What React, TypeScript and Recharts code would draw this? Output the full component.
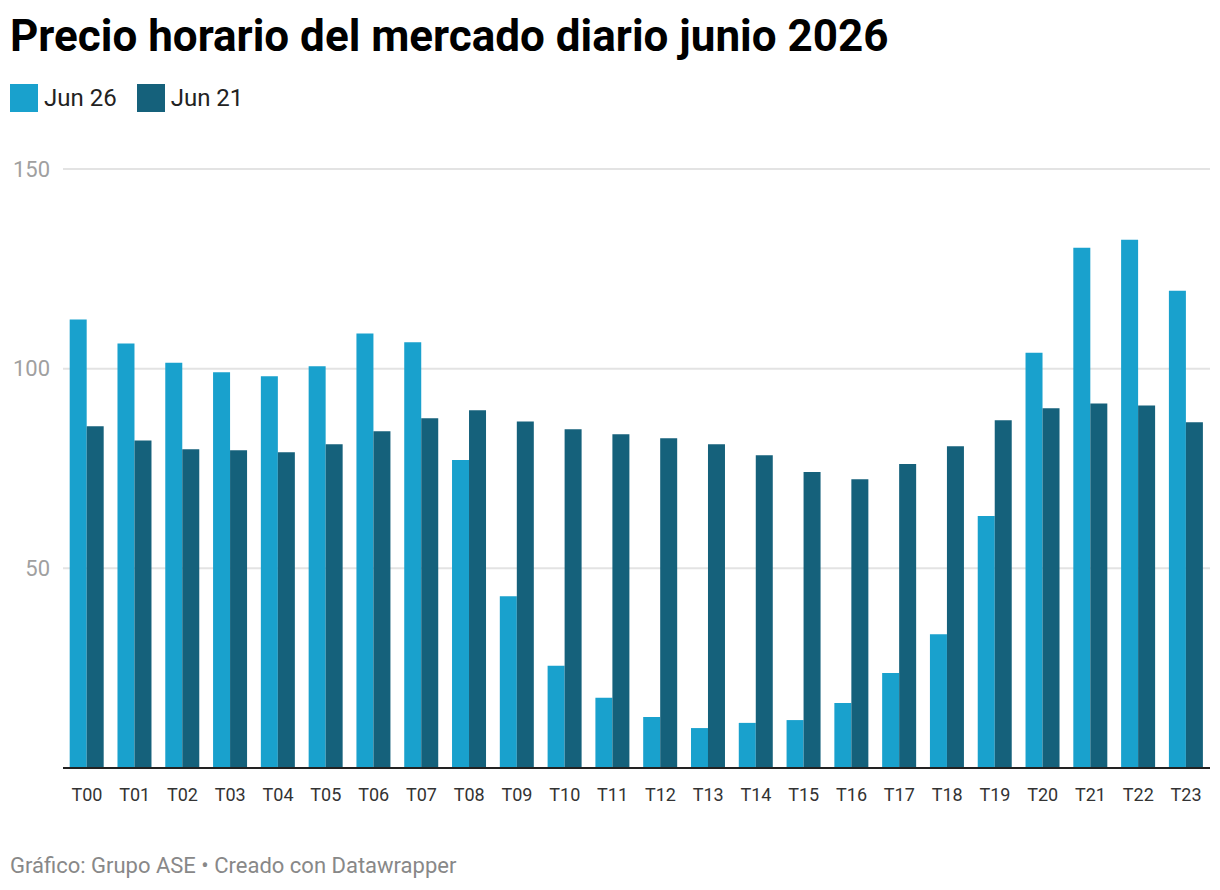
import { Bar, BarChart, CartesianGrid, XAxis, YAxis } from "recharts";

const hours = [
  "T00", "T01", "T02", "T03", "T04", "T05", "T06", "T07", "T08", "T09", "T10", "T11",
  "T12", "T13", "T14", "T15", "T16", "T17", "T18", "T19", "T20", "T21", "T22", "T23",
];

const jun26 = [
  112.3, 106.3, 101.5, 99.1, 98.1, 100.6, 108.8, 106.6, 77.1, 43.0, 25.6, 17.6,
  12.8, 10.0, 11.3, 12.0, 16.3, 23.8, 33.5, 63.1, 104.0, 130.3, 132.3, 119.5,
];

const jun21 = [
  85.6, 82.0, 79.8, 79.6, 79.1, 81.1, 84.3, 87.6, 89.6, 86.8, 84.8, 83.6,
  82.6, 81.1, 78.3, 74.1, 72.3, 76.1, 80.6, 87.1, 90.1, 91.3, 90.8, 86.6,
];

const yTicks = [50, 100, 150];

const LIGHT = "#19a1cd";
const DARK = "#15617b";
const FONT = "Roboto, 'Noto Sans', sans-serif";

const data = hours.map((h, i) => ({ hour: h, jun26: jun26[i], jun21: jun21[i] }));

function LegendItem({ color, label }: { color: string; label: string }) {
  return (
    <div style={{ display: "flex", alignItems: "center", marginRight: 20 }}>
      <div style={{ width: 28, height: 28, background: color, marginRight: 6 }} />
      <span style={{ fontSize: 24, color: "#222" }}>{label}</span>
    </div>
  );
}

export default function App() {
  return (
    <div
      style={{
        position: "relative",
        width: 1220,
        height: 890,
        margin: -8,
        background: "#fff",
        fontFamily: FONT,
        overflow: "hidden",
      }}
    >
      <BarChart
        width={1220}
        height={890}
        data={data}
        margin={{ top: 169, right: 10, bottom: 92, left: 0 }}
        barCategoryGap="14%"
        barGap={0}
        style={{ position: "absolute", left: 0, top: 0 }}
      >
        <CartesianGrid vertical={false} stroke="#e3e3e3" strokeWidth={2} />
        <YAxis
          domain={[0, 150]}
          ticks={yTicks}
          width={63}
          axisLine={false}
          tickLine={false}
          tickMargin={7}
          tick={{ fill: "#a0a0a0", fontSize: 22, fontFamily: FONT }}
        />
        <XAxis
          dataKey="hour"
          height={30}
          tickSize={0}
          tickMargin={20}
          tickLine={false}
          interval={0}
          axisLine={{ stroke: "#222", strokeWidth: 2 }}
          tick={{ fill: "#333", fontSize: 18, fontFamily: FONT }}
        />
        <Bar dataKey="jun26" name="Jun 26" fill={LIGHT} isAnimationActive={false} />
        <Bar dataKey="jun21" name="Jun 21" fill={DARK} isAnimationActive={false} />
      </BarChart>

      <div
        style={{
          position: "absolute",
          left: 10,
          top: 8,
          fontSize: 44,
          fontWeight: 700,
          color: "#000",
          lineHeight: "56px",
        }}
      >
        Precio horario del mercado diario junio 2026
      </div>

      <div style={{ position: "absolute", left: 10, top: 84, display: "flex" }}>
        <LegendItem color={LIGHT} label="Jun 26" />
        <LegendItem color={DARK} label="Jun 21" />
      </div>

      <div
        style={{
          position: "absolute",
          left: 10,
          top: 851,
          fontSize: 22,
          color: "#888",
          lineHeight: "30px",
        }}
      >
        Gráfico: Grupo ASE • Creado con Datawrapper
      </div>
    </div>
  );
}
